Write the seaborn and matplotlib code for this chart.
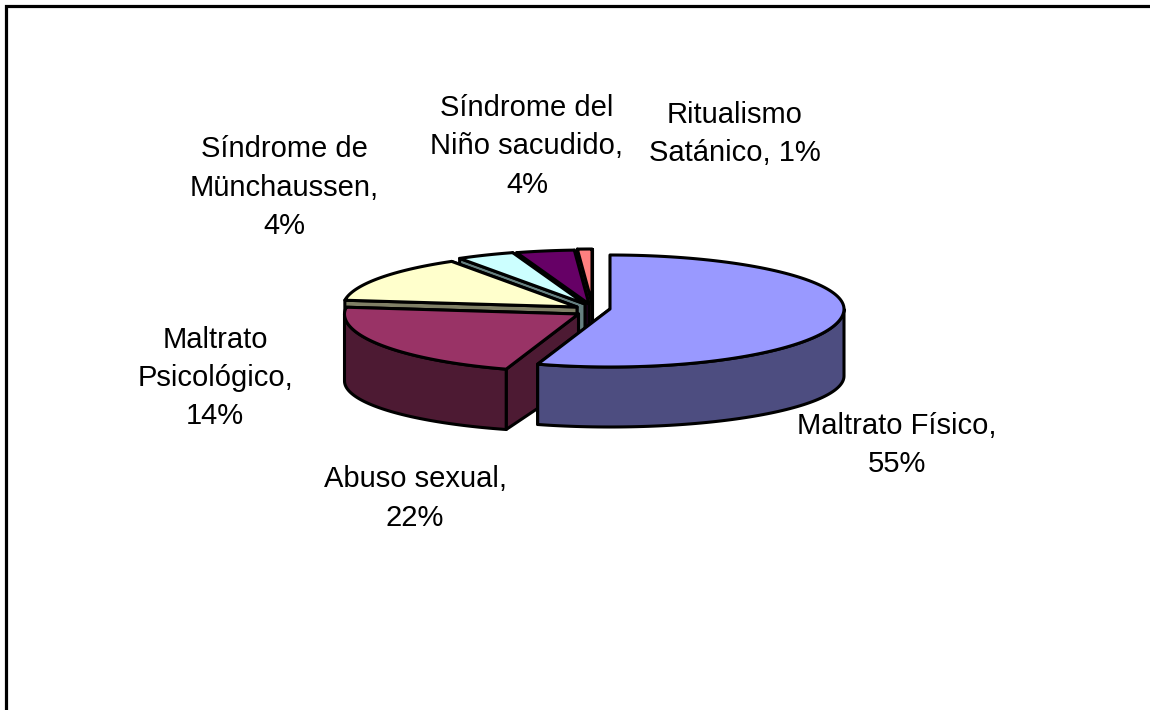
import numpy as np
import matplotlib
matplotlib.use('Agg')
import matplotlib.pyplot as plt
import seaborn as sns

# Chart data
categories = ['Maltrato Físico', 'Abuso sexual', 'Maltrato Psicológico',
              'Síndrome de Münchaussen', 'Síndrome del Niño sacudido', 'Ritualismo Satánico']
values = [55, 22, 14, 4, 4, 1]
top_colors = ['#9999FF', '#993366', '#FFFFCC', '#CCFFFF', '#660066', '#FF8080']

# Label text with the line breaks of the original
label_breaks = [
    ['Maltrato Físico,'],
    ['Abuso sexual,'],
    ['Maltrato', 'Psicológico,'],
    ['Síndrome de', 'Münchaussen,'],
    ['Síndrome del', 'Niño sacudido,'],
    ['Ritualismo', 'Satánico,'],
]
label_pos = [(897, 445), (415, 498.5), (215, 378), (284, 187.5), (527, 146.5), (735, 134)]

# Pie geometry in pixels
apex = [(610, 309), (578.5, 314), (577, 307), (585, 304), (589, 304), (592, 303)]
rx, ry_back, ry_front, ry_bottom, depth = 234, 54, 58, 51, 67

sns.set_theme(style='white')
plt.rcParams['font.family'] = ['Liberation Sans', 'DejaVu Sans']
palette = sns.color_palette(top_colors)


def rim(center, theta):
    # theta in degrees, clockwise from the top
    t = np.radians(theta)
    ry = np.where(np.cos(t) > 0, ry_back, ry_front)
    return center[0] + rx * np.sin(t), center[1] - ry * np.cos(t)


def rim_low(center, theta):
    t = np.radians(theta)
    ry = np.where(np.cos(t) > 0, ry_back, ry_bottom)
    return center[0] + rx * np.sin(t), center[1] + depth - ry * np.cos(t)


fig = plt.figure(figsize=(11.5, 7.1), dpi=100)
ax = fig.add_axes([0, 0, 1, 1])
ax.set_xlim(0, 1150)
ax.set_ylim(710, 0)
ax.axis('off')

ax.plot([6, 6, 1150], [710, 5.5, 5.5], color='black', lw=2.3, solid_joinstyle='miter')

edges = np.cumsum([0] + values) / sum(values) * 360
style = dict(edgecolor='black', linewidth=2.2, joinstyle='round')

# Painter's order, back slices first
for i in range(len(values) - 1, -1, -1):
    start, end = edges[i], edges[i + 1]
    c = apex[i]
    wall = tuple(v * 0.5 for v in palette[i])

    # Cut faces
    for ang in (end, start):
        x0, y0 = rim(c, ang)
        x1, y1 = rim_low(c, ang)
        ax.fill([c[0], x0, x1, c[0]], [c[1], y0, y1, c[1] + depth], facecolor=wall, **style)

    # Outer wall, only the part facing the viewer
    lo, hi = max(start, 90), min(end, 270)
    if lo < hi:
        th = np.linspace(lo, hi, 80)
        xt, yt = rim(c, th)
        xb, yb = rim_low(c, th)
        ax.fill(np.r_[xt, xb[::-1]], np.r_[yt, yb[::-1]], facecolor=wall, **style)

    # Top face
    th = np.linspace(start, end, 120)
    xt, yt = rim(c, th)
    ax.fill(np.r_[c[0], xt], np.r_[c[1], yt], facecolor=palette[i], **style)

# Labels
for lines, v, (x, y) in zip(label_breaks, values, label_pos):
    if lines[-1] == 'Satánico,':
        text = '\n'.join(lines[:-1] + [f'{lines[-1]} {v}%'])
    else:
        text = '\n'.join(lines + [f'{v}%'])
    ax.text(x, y, text, ha='center', va='center', fontsize=21, color='black', linespacing=1.47)

fig.savefig('out.png', dpi=100, facecolor='white')
